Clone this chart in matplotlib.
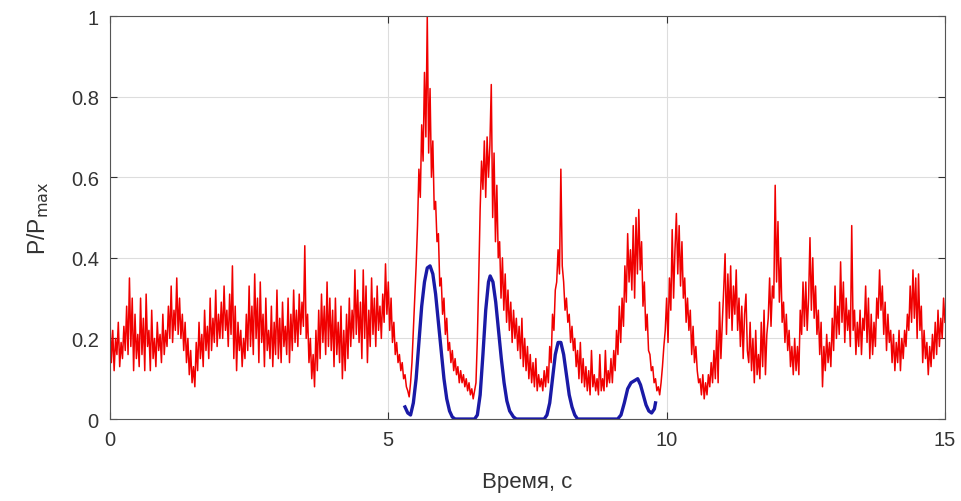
import numpy as np
import matplotlib

matplotlib.use("Agg")
import matplotlib.pyplot as plt

plt.rcParams["font.family"] = ["Liberation Sans", "DejaVu Sans"]

# Normalised pressure (red), sampled every 0.025 s from 0 to 15 s
red = [
    0.25, 0.14, 0.22, 0.12, 0.20, 0.16, 0.24, 0.13, 0.19, 0.15, 0.23, 0.17, 0.28, 0.16, 0.35, 0.18, 0.30, 0.12, 0.26, 0.15,
    0.21, 0.13, 0.30, 0.16, 0.25, 0.12, 0.31, 0.18, 0.22, 0.12, 0.27, 0.15, 0.20, 0.13, 0.24, 0.17, 0.21, 0.14, 0.26, 0.16,
    0.22, 0.18, 0.28, 0.20, 0.33, 0.19, 0.27, 0.22, 0.35, 0.21, 0.30, 0.20, 0.26, 0.17, 0.24, 0.14, 0.20, 0.11, 0.17, 0.09,
    0.13, 0.08, 0.19, 0.12, 0.24, 0.15, 0.21, 0.13, 0.27, 0.17, 0.23, 0.15, 0.30, 0.17, 0.25, 0.19, 0.32, 0.18, 0.26, 0.20,
    0.29, 0.20, 0.33, 0.22, 0.27, 0.18, 0.31, 0.21, 0.38, 0.15, 0.28, 0.12, 0.24, 0.17, 0.22, 0.13, 0.20, 0.15, 0.26, 0.17,
    0.33, 0.18, 0.28, 0.16, 0.36, 0.20, 0.30, 0.14, 0.34, 0.19, 0.26, 0.13, 0.30, 0.17, 0.22, 0.15, 0.28, 0.13, 0.24, 0.16,
    0.32, 0.15, 0.25, 0.14, 0.29, 0.18, 0.23, 0.16, 0.30, 0.14, 0.26, 0.17, 0.32, 0.19, 0.27, 0.18, 0.31, 0.21, 0.29, 0.23,
    0.43, 0.20, 0.26, 0.14, 0.20, 0.10, 0.16, 0.08, 0.22, 0.12, 0.27, 0.15, 0.31, 0.19, 0.28, 0.16, 0.34, 0.18, 0.30, 0.17,
    0.27, 0.13, 0.30, 0.16, 0.24, 0.14, 0.28, 0.10, 0.22, 0.12, 0.26, 0.15, 0.30, 0.18, 0.27, 0.20, 0.37, 0.21, 0.32, 0.19,
    0.29, 0.15, 0.37, 0.20, 0.33, 0.14, 0.27, 0.18, 0.35, 0.21, 0.30, 0.18, 0.33, 0.22, 0.28, 0.20, 0.31, 0.24, 0.385, 0.26,
    0.34, 0.22, 0.30, 0.19, 0.24, 0.16, 0.19, 0.14, 0.16, 0.12, 0.14, 0.10, 0.11, 0.08, 0.07, 0.055, 0.09, 0.14, 0.22, 0.30,
    0.38, 0.48, 0.62, 0.55, 0.73, 0.64, 0.86, 0.70, 1.00, 0.66, 0.82, 0.60, 0.69, 0.52, 0.54, 0.44, 0.46, 0.33, 0.35, 0.26,
    0.30, 0.21, 0.25, 0.17, 0.19, 0.14, 0.17, 0.12, 0.15, 0.11, 0.13, 0.09, 0.12, 0.09, 0.11, 0.08, 0.10, 0.07, 0.09, 0.06,
    0.075, 0.05, 0.07, 0.09, 0.20, 0.35, 0.52, 0.64, 0.57, 0.69, 0.55, 0.70, 0.60, 0.68, 0.83, 0.50, 0.66, 0.44, 0.58, 0.40,
    0.44, 0.30, 0.40, 0.27, 0.36, 0.24, 0.32, 0.22, 0.29, 0.19, 0.27, 0.20, 0.25, 0.17, 0.23, 0.15, 0.25, 0.13, 0.20, 0.12,
    0.18, 0.10, 0.16, 0.09, 0.14, 0.08, 0.15, 0.07, 0.11, 0.08, 0.10, 0.07, 0.12, 0.08, 0.13, 0.09, 0.18, 0.14, 0.26, 0.22,
    0.32, 0.34, 0.42, 0.36, 0.62, 0.38, 0.34, 0.27, 0.30, 0.24, 0.26, 0.19, 0.23, 0.17, 0.20, 0.13, 0.17, 0.10, 0.19, 0.09,
    0.15, 0.08, 0.13, 0.07, 0.12, 0.06, 0.17, 0.08, 0.11, 0.07, 0.10, 0.06, 0.16, 0.07, 0.10, 0.07, 0.17, 0.08, 0.12, 0.09,
    0.15, 0.09, 0.17, 0.12, 0.22, 0.16, 0.28, 0.19, 0.30, 0.23, 0.38, 0.29, 0.46, 0.34, 0.42, 0.32, 0.48, 0.30, 0.50, 0.36,
    0.52, 0.37, 0.44, 0.28, 0.34, 0.22, 0.26, 0.17, 0.16, 0.12, 0.13, 0.09, 0.10, 0.07, 0.08, 0.06, 0.09, 0.13, 0.18, 0.22,
    0.30, 0.19, 0.35, 0.27, 0.47, 0.30, 0.42, 0.51, 0.36, 0.48, 0.33, 0.44, 0.30, 0.35, 0.24, 0.30, 0.22, 0.27, 0.16, 0.23,
    0.14, 0.18, 0.12, 0.09, 0.10, 0.06, 0.11, 0.05, 0.09, 0.06, 0.11, 0.08, 0.14, 0.09, 0.17, 0.10, 0.22, 0.09, 0.29, 0.15,
    0.24, 0.32, 0.41, 0.21, 0.36, 0.25, 0.38, 0.22, 0.33, 0.26, 0.37, 0.22, 0.30, 0.18, 0.28, 0.15, 0.26, 0.31, 0.17, 0.14,
    0.24, 0.12, 0.20, 0.09, 0.22, 0.11, 0.16, 0.10, 0.24, 0.13, 0.27, 0.11, 0.21, 0.25, 0.35, 0.23, 0.33, 0.30, 0.58, 0.34,
    0.49, 0.29, 0.40, 0.24, 0.29, 0.19, 0.26, 0.17, 0.22, 0.13, 0.18, 0.11, 0.20, 0.12, 0.18, 0.11, 0.27, 0.21, 0.34, 0.23,
    0.34, 0.22, 0.30, 0.45, 0.27, 0.40, 0.25, 0.33, 0.21, 0.27, 0.16, 0.24, 0.08, 0.18, 0.12, 0.21, 0.14, 0.19, 0.13, 0.25,
    0.17, 0.33, 0.20, 0.28, 0.21, 0.39, 0.24, 0.34, 0.19, 0.30, 0.22, 0.27, 0.18, 0.48, 0.22, 0.27, 0.16, 0.24, 0.18, 0.27,
    0.16, 0.25, 0.22, 0.33, 0.19, 0.30, 0.15, 0.26, 0.16, 0.24, 0.18, 0.30, 0.25, 0.37, 0.27, 0.33, 0.21, 0.29, 0.17, 0.26,
    0.19, 0.22, 0.14, 0.21, 0.12, 0.19, 0.14, 0.22, 0.12, 0.20, 0.15, 0.22, 0.18, 0.26, 0.22, 0.33, 0.24, 0.37, 0.25, 0.35,
    0.20, 0.36, 0.22, 0.28, 0.14, 0.22, 0.15, 0.19, 0.11, 0.18, 0.13, 0.21, 0.15, 0.24, 0.16, 0.27, 0.18, 0.25, 0.20, 0.30,
    0.24,
]
red_t = np.linspace(0, 15, len(red))

# Model curve (blue)
blue_t = [5.30, 5.35, 5.40, 5.45, 5.50, 5.55, 5.60, 5.65, 5.70, 5.75, 5.80, 5.85, 5.90, 5.95,
          6.00, 6.05, 6.10, 6.15, 6.20, 6.55, 6.60, 6.65, 6.70, 6.75, 6.80, 6.83, 6.88, 6.93,
          6.98, 7.03, 7.08, 7.13, 7.18, 7.25, 7.30, 7.80, 7.85, 7.90, 7.95, 8.00, 8.05, 8.10,
          8.15, 8.20, 8.25, 8.30, 8.35, 8.40, 9.12, 9.18, 9.24, 9.30, 9.36, 9.42, 9.48, 9.53,
          9.58, 9.63, 9.68, 9.73, 9.78, 9.80]
blue_v = [0.03, 0.015, 0.01, 0.04, 0.10, 0.19, 0.28, 0.34, 0.375, 0.38, 0.36, 0.31, 0.24, 0.17,
          0.10, 0.05, 0.02, 0.005, 0.0, 0.0, 0.01, 0.06, 0.16, 0.27, 0.34, 0.355, 0.34, 0.29,
          0.22, 0.15, 0.09, 0.045, 0.02, 0.005, 0.0, 0.0, 0.01, 0.04, 0.10, 0.16, 0.19, 0.19,
          0.16, 0.11, 0.06, 0.03, 0.01, 0.0, 0.0, 0.01, 0.04, 0.075, 0.09, 0.095, 0.10, 0.085,
          0.06, 0.035, 0.02, 0.015, 0.025, 0.04]

x_ticks = [0, 5, 10, 15]
y_ticks = [0, 0.2, 0.4, 0.6, 0.8, 1]
y_tick_labels = ["0", "0.2", "0.4", "0.6", "0.8", "1"]


def main():
    fig = plt.figure(figsize=(9.62, 5.02), dpi=100)
    ax = fig.add_axes([0.1143, 0.1633, 0.868, 0.8028])

    ax.plot(red_t, red, color="#f00000", lw=1.1)
    ax.plot(blue_t, blue_v, color="#1a1aa6", lw=2.4, solid_joinstyle="round")

    ax.set_xlim(0, 15)
    ax.set_ylim(0, 1)
    ax.set_xticks(x_ticks)
    ax.set_yticks(y_ticks)
    ax.set_yticklabels(y_tick_labels)
    ax.grid(True, color="#dddddd", lw=0.8)
    ax.set_axisbelow(True)

    ax.tick_params(direction="in", length=5, width=0.8, top=True, right=True,
                   labelsize=14.5, colors="#333333", pad=8)
    for s in ax.spines.values():
        s.set_color("#555555")
        s.set_linewidth(0.8)

    ax.set_xlabel("Время, с", fontsize=16, color="#333333", labelpad=16)
    ax.set_ylabel("P/P$_{\\mathrm{max}}$", fontsize=16.5, color="#333333", labelpad=14)

    fig.savefig("out.png", dpi=100)


if __name__ == "__main__":
    main()
